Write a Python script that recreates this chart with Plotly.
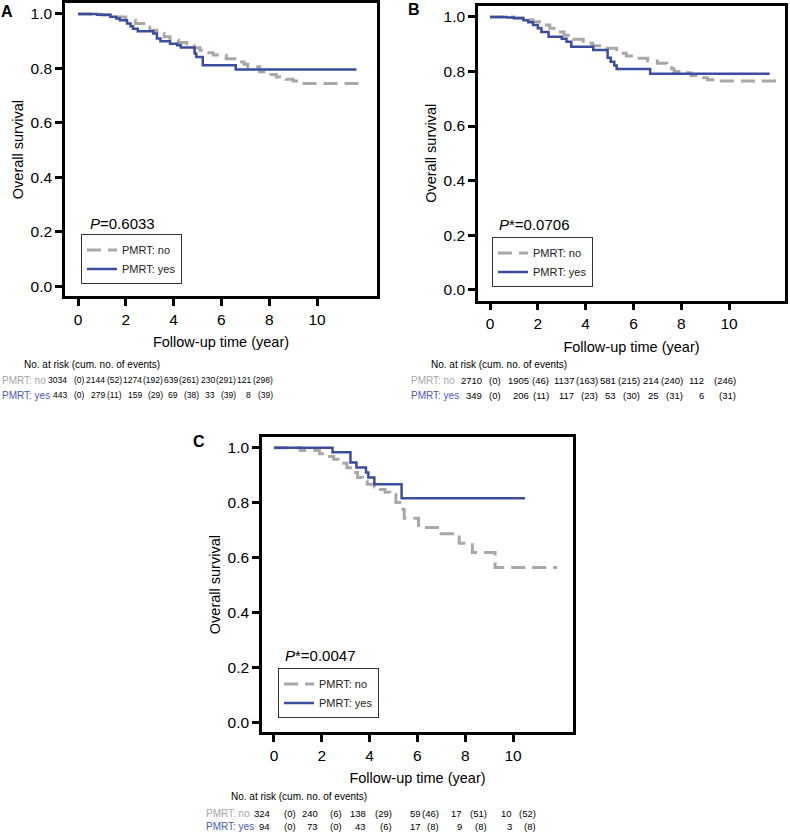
import plotly.graph_objects as go

W, H = 790, 832
FONT = "Liberation Sans, Arial, Helvetica, sans-serif"
BLUE = "#3a4d9e"
GRAY = "#a8a8a8"
LBL_GRAY = "#a6a6a6"
LBL_BLUE = "#4a5bb0"

# ---------------- data ----------------
# Panel A
a_no_t = [0, 0.5, 1.0, 1.5, 2.0, 2.4, 2.75, 3.0, 3.3, 3.6, 3.85, 4.2, 4.55, 4.85, 5.1, 5.4, 5.66, 6.2,
          6.75, 6.95, 7.1, 7.6, 8.0, 8.3, 8.7, 9.0, 9.3, 12.0]
a_no_s = [1.0, 0.999, 0.996, 0.989, 0.977, 0.965, 0.952, 0.94, 0.928, 0.916, 0.904, 0.895, 0.885, 0.876,
          0.867, 0.858, 0.849, 0.836, 0.824, 0.815, 0.806, 0.788, 0.778, 0.769, 0.76, 0.754, 0.745, 0.745]
a_yes_t = [0, 0.8, 1.35, 1.6, 1.75, 2.05, 2.2, 2.3, 2.5, 3.15, 3.3, 3.45, 3.85, 4.15, 4.3, 4.88, 4.95,
           5.22, 6.6, 11.65]
a_yes_s = [1.0, 0.997, 0.99, 0.983, 0.977, 0.965, 0.955, 0.946, 0.937, 0.928, 0.91, 0.90, 0.891, 0.885,
           0.877, 0.855, 0.842, 0.812, 0.796, 0.796]

# Panel B
b_no_t = [0, 1.0, 1.5, 1.8, 2.2, 2.5, 2.8, 3.1, 3.5, 3.9, 4.3, 4.75, 5.3, 5.7, 6.15, 6.6, 7.0, 7.4, 7.6,
          7.7, 8.0, 8.4, 8.8, 9.1, 9.5, 12.05]
b_no_s = [1.0, 0.997, 0.99, 0.982, 0.97, 0.958, 0.945, 0.933, 0.918, 0.903, 0.894, 0.885, 0.867, 0.857,
          0.848, 0.838, 0.83, 0.82, 0.81, 0.80, 0.795, 0.785, 0.777, 0.77, 0.765, 0.765]
b_yes_t = [0, 0.7, 1.0, 1.4, 1.6, 1.8, 2.0, 2.15, 2.45, 3.0, 3.2, 3.4, 4.32, 4.92, 5.05, 5.2, 5.3, 6.7, 11.7]
b_yes_s = [1.0, 0.998, 0.995, 0.988, 0.98, 0.97, 0.958, 0.945, 0.927, 0.92, 0.909, 0.891, 0.879, 0.85,
           0.836, 0.822, 0.809, 0.792, 0.792]

# Panel C
c_no_t = [0, 1.1, 1.9, 2.2, 2.5, 2.8, 3.05, 3.3, 3.5, 3.7, 3.9, 4.2, 4.45, 4.65, 4.85, 5.1, 5.27, 5.45,
          6.05, 7.0, 7.75, 8.3, 9.25, 11.85]
c_no_s = [1.0, 0.99, 0.978, 0.968, 0.958, 0.943, 0.927, 0.91, 0.891, 0.878, 0.867, 0.857, 0.848, 0.838,
          0.83, 0.80, 0.776, 0.743, 0.709, 0.687, 0.652, 0.618, 0.564, 0.564]
c_yes_t = [0, 2.45, 3.2, 3.45, 3.85, 3.95, 4.2, 5.34, 10.5]
c_yes_s = [1.0, 0.983, 0.946, 0.928, 0.91, 0.891, 0.867, 0.816, 0.816]

# Numbers at risk (cumulative number of events)
a_risk_no = [3034, 2144, 1274, 639, 230, 121]
a_events_no = [0, 52, 192, 261, 291, 298]
a_risk_yes = [443, 279, 159, 69, 33, 8]
a_events_yes = [0, 11, 29, 38, 39, 39]

b_risk_no = [2710, 1905, 1137, 581, 214, 112]
b_events_no = [0, 46, 163, 215, 240, 246]
b_risk_yes = [349, 206, 117, 53, 25, 6]
b_events_yes = [0, 11, 23, 30, 31, 31]

c_risk_no = [324, 240, 138, 59, 17, 10]
c_events_no = [0, 6, 29, 46, 51, 52]
c_risk_yes = [94, 73, 43, 17, 9, 3]
c_events_yes = [0, 0, 6, 8, 8, 8]

p_texts = ["<i>P</i>=0.6033", "<i>P</i>*=0.0706", "<i>P</i>*=0.0047"]
panel_labels = ["A", "B", "C"]
x_ticks = [0, 2, 4, 6, 8, 10]
y_ticks = [0.0, 0.2, 0.4, 0.6, 0.8, 1.0]
series_names = ["PMRT: no", "PMRT: yes"]
table_header = "No. at risk (cum. no. of events)"


def px2x(px):
    return px / W


def py2y(py):
    return 1 - py / H


# ---------------- layout per panel (pixel geometry) ----------------
panels = [
    dict(curves=(a_no_t, a_no_s, a_yes_t, a_yes_s),
         risk=(a_risk_no, a_events_no, a_risk_yes, a_events_yes),
         xdom=(65, 377), ydom=(1, 295), xr=(-0.544, 12.51), yr=(-0.0366, 1.0403),
         leg=(81, 233), ptxt=(88, 222), lab=(7, 10),
         tab=dict(lx=1, hx=23, hy=363, r1=379, r2=394, fs=8.5,
                  nx=[68, 106, 142.5, 179, 215.5, 252], ex=[86, 122.5, 163.5, 200, 236.5, 274])),
    dict(curves=(b_no_t, b_no_s, b_yes_t, b_yes_s),
         risk=(b_risk_no, b_events_no, b_risk_yes, b_events_yes),
         xdom=(478, 785), ydom=(4, 299.3), xr=(-0.502, 12.34), yr=(-0.040, 1.040),
         leg=(492, 236), ptxt=(497, 223), lab=(414, 8),
         tab=dict(lx=410, hx=430, hy=363, r1=379, r2=394, fs=9.5,
                  nx=[483, 530, 575, 617, 660, 705], ex=[502, 550, 599, 641, 684, 737])),
    dict(curves=(c_no_t, c_no_s, c_yes_t, c_yes_s),
         risk=(c_risk_no, c_events_no, c_risk_yes, c_events_yes),
         xdom=(262, 573), ydom=(436, 732), xr=(-0.50, 12.51), yr=(-0.036, 1.039),
         leg=(278, 668), ptxt=(283, 655), lab=(199, 441),
         tab=dict(lx=205, hx=230, hy=796, r1=813, r2=826, fs=9.5,
                  nx=[270.7, 319.3, 366.7, 421.7, 463.3, 513.3], ex=[296.7, 343.3, 392.7, 440, 488.3, 536.7])),
]

fig = go.Figure()
annotations = []
layout_kw = {}

for i, p in enumerate(panels):
    sfx = "" if i == 0 else str(i + 1)
    xa, ya = "x" + sfx, "y" + sfx
    leg_name = "legend" + sfx
    no_t, no_s, yes_t, yes_s = p["curves"]
    fig.add_trace(go.Scatter(x=no_t, y=no_s, mode="lines", line=dict(color=GRAY, width=3, dash="14px,7px", shape="hv"),
                             name=series_names[0], xaxis=xa, yaxis=ya, legend=leg_name))
    fig.add_trace(go.Scatter(x=yes_t, y=yes_s, mode="lines", line=dict(color=BLUE, width=2.5, shape="hv"),
                             name=series_names[1], xaxis=xa, yaxis=ya, legend=leg_name))

    axis_common = dict(showline=True, linecolor="black", linewidth=2.5, mirror=True,
                       ticks="outside", ticklen=7, tickwidth=2.5, tickcolor="black",
                       showgrid=False, zeroline=False, tickfont=dict(size=15.5, color="black", family=FONT))
    layout_kw["xaxis" + sfx] = dict(axis_common, domain=[px2x(p["xdom"][0]), px2x(p["xdom"][1])],
                                    range=list(p["xr"]), tickvals=x_ticks, anchor=ya,
                                    title=dict(text="Follow-up time (year)", font=dict(size=14.5, family=FONT, color="black"), standoff=11))
    layout_kw["yaxis" + sfx] = dict(axis_common, domain=[py2y(p["ydom"][1]), py2y(p["ydom"][0])],
                                    range=list(p["yr"]), tickvals=y_ticks, tickformat=".1f", anchor=xa,
                                    title=dict(text="Overall survival", font=dict(size=14.5, family=FONT, color="black"), standoff=4))
    layout_kw[leg_name] = dict(x=px2x(p["leg"][0]), y=py2y(p["leg"][1]), xanchor="left", yanchor="top",
                               bgcolor="white", bordercolor="#333333", borderwidth=1,
                               font=dict(size=11, family=FONT, color="#222"), itemwidth=30,
                               tracegroupgap=0, traceorder="normal")

    # p-value
    annotations.append(dict(text=p_texts[i], x=px2x(p["ptxt"][0]), y=py2y(p["ptxt"][1]), xref="paper", yref="paper",
                            xanchor="left", yanchor="middle", showarrow=False,
                            font=dict(size=15, family=FONT, color="black")))
    # panel label
    annotations.append(dict(text="<b>%s</b>" % panel_labels[i], x=px2x(p["lab"][0]), y=py2y(p["lab"][1]),
                            xref="paper", yref="paper", xanchor="center", yanchor="middle", showarrow=False,
                            font=dict(size=16, family=FONT, color="black")))
    # risk table
    t = p["tab"]
    risk_no, ev_no, risk_yes, ev_yes = p["risk"]
    numf = dict(size=t["fs"], family=FONT, color="black")
    txtf = dict(size=10, family=FONT, color="black")
    annotations.append(dict(text=table_header, x=px2x(t["hx"]), y=py2y(t["hy"]), xref="paper", yref="paper",
                            xanchor="left", yanchor="middle", showarrow=False, font=txtf, borderpad=0))
    for row_y, lbl, col, risks, evs in ((t["r1"], series_names[0], LBL_GRAY, risk_no, ev_no),
                                        (t["r2"], series_names[1], LBL_BLUE, risk_yes, ev_yes)):
        annotations.append(dict(text=lbl, x=px2x(t["lx"]), y=py2y(row_y), xref="paper", yref="paper",
                                xanchor="left", yanchor="middle", showarrow=False, borderpad=0,
                                font=dict(txtf, color=col)))
        for j, (r, e) in enumerate(zip(risks, evs)):
            annotations.append(dict(text=str(r), x=px2x(t["nx"][j]), y=py2y(row_y),
                                    xref="paper", yref="paper", xanchor="right", yanchor="middle",
                                    showarrow=False, font=numf, borderpad=0))
            annotations.append(dict(text="(%d)" % e, x=px2x(t["ex"][j]), y=py2y(row_y),
                                    xref="paper", yref="paper", xanchor="right", yanchor="middle",
                                    showarrow=False, font=numf, borderpad=0))

fig.update_layout(
    width=W, height=H,
    margin=dict(l=0, r=0, t=0, b=0),
    paper_bgcolor="white", plot_bgcolor="white",
    font=dict(family=FONT, color="black"),
    annotations=annotations,
    showlegend=True,
    **layout_kw,
)

fig.write_html("out.html", config={"displayModeBar": False},
               post_script="document.body.style.margin='0px';")
